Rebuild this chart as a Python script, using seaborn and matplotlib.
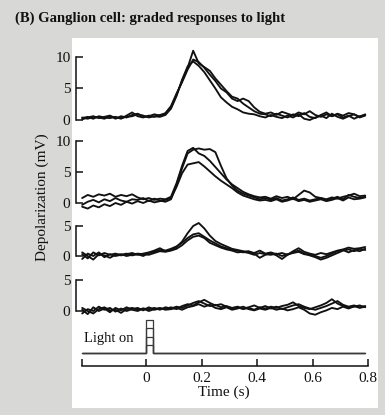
import numpy as np
import pandas as pd
import matplotlib
matplotlib.use("Agg")
import matplotlib.pyplot as plt
import seaborn as sns
from matplotlib.patches import Rectangle

# ---------------- data ----------------
times = [-0.23, -0.21, -0.19, -0.17, -0.15, -0.13, -0.11, -0.09, -0.07, -0.05,
         -0.03, -0.01, 0.01, 0.03, 0.05, 0.07, 0.09, 0.11, 0.13, 0.15,
         0.17, 0.19, 0.21, 0.23, 0.25, 0.27, 0.29, 0.31, 0.33, 0.35,
         0.37, 0.39, 0.41, 0.43, 0.45, 0.47, 0.49, 0.51, 0.53, 0.55,
         0.57, 0.59, 0.61, 0.63, 0.65, 0.67, 0.69, 0.71, 0.73, 0.75,
         0.77, 0.79]

p1_a = [0.3, 0.5, 0.2, 0.6, 0.4, 0.3, 0.5, 0.2, 0.7, 1.2, 0.6, 0.4, 0.7, 0.5, 0.8, 1.0,
        2.0, 4.0, 6.2, 8.3,
        11.0, 9.0, 8.4, 7.8, 6.6, 5.6, 4.6, 3.7, 3.4, 2.6, 2.0, 1.4, 1.0, 0.9,
        0.6, 1.0, 0.7, 0.4, 0.9, 0.6, 1.1, 0.5, 0.3, 0.8, 1.2, 0.6, 0.9, 0.4, 0.7, 0.2, 0.6, 0.8]
p1_b = [0.1, 0.4, 0.6, 0.3, 0.5, 0.7, 0.2, 0.6, 0.4, 0.8, 1.0, 0.5, 0.6, 0.9, 0.7, 1.1,
        2.2, 4.2, 6.0, 8.0,
        9.6, 9.2, 8.3, 7.2, 6.2, 5.0, 4.4, 3.4, 3.0, 3.4, 3.0, 2.0, 1.3, 1.0,
        1.2, 0.8, 1.3, 1.0, 0.7, 1.2, 0.9, 1.4, 0.8, 0.5, 0.9, 0.6, 1.0, 0.7, 1.1, 0.9, 0.5, 0.9]
p1_c = [0.4, 0.2, 0.5, 0.4, 0.2, 0.6, 0.4, 0.3, 0.5, 0.6, 0.9, 0.7, 0.4, 0.6, 0.5, 0.8,
        1.8, 3.8, 6.4, 8.5,
        9.3, 8.6, 7.6, 6.3, 5.0, 3.6, 2.8, 2.1, 1.7, 1.2, 1.0, 0.9, 0.6, 0.4,
        0.8, 0.5, 0.3, 0.7, 0.4, 0.9, 0.2, 0.0, 0.4, 0.7, 0.3, 1.0, 0.5, 0.2, 0.6, 0.9, 0.4, 0.7]

p2_a = [0.8, 1.3, 1.0, 1.4, 1.2, 1.5, 1.0, 1.3, 1.1, 1.4, 0.9, 0.6, 0.8, 0.5, 0.7, 0.6,
        1.0, 3.2, 6.0, 8.4,
        8.9, 8.0, 7.6, 6.8, 5.8, 4.8, 3.8, 3.0, 2.4, 1.8, 1.4, 1.1, 0.9, 1.0,
        0.7, 1.1, 0.8, 1.0, 0.6, 1.3, 2.0, 1.7, 1.0, 0.8, 0.6, 0.9, 0.7, 1.0, 1.2, 1.5, 1.1, 1.2]
p2_b = [-0.3, 0.2, 0.5, 0.1, 0.6, 0.3, 0.8, 0.4, 0.2, 0.6, 0.5, 0.8, 0.3, 0.7, 0.4, 0.2,
        0.6, 2.8, 5.6, 8.0,
        8.6, 8.8, 8.6, 8.7, 8.2, 6.0, 4.0, 2.8, 2.0, 1.5, 1.2, 0.9, 0.6, 0.8,
        0.5, 0.8, 0.4, 0.6, 0.9, 0.5, 0.7, 0.4, 0.6, 0.8, 0.5, 0.7, 1.0, 0.6, 1.3, 1.0, 0.8, 1.0]
p2_c = [-0.6, -0.9, -0.4, -0.7, -0.2, -0.5, 0.0, -0.3, 0.2, -0.1, 0.3, 0.0, 0.4, 0.1, 0.3, 0.5,
        0.8, 2.6, 4.8, 6.2,
        6.4, 6.6, 5.9, 5.1, 4.3, 3.6, 3.0, 2.4, 1.7, 1.2, 0.9, 0.6, 0.4, 0.5,
        0.3, 0.6, 0.2, 0.4, 0.7, 0.3, 0.5, 0.2, 0.4, 0.6, 0.3, 0.5, 0.8, 0.4, 0.9, 0.6, 0.7, 0.9]

p3_a = [0.3, -0.4, 0.6, 0.1, 0.5, 0.2, 0.4, 0.1, 0.3, 0.5, 0.2, 0.4, 0.6, 0.9, 1.3, 0.8,
        1.0, 1.5, 2.4, 3.8,
        5.0, 5.5, 4.6, 3.4, 2.5, 2.0, 1.6, 1.2, 1.0, 0.8, 0.7, 0.5, 0.9, 0.4,
        0.6, 0.3, 0.5, 0.2, 0.8, 1.3, 0.7, 0.4, 0.2, 0.5, 0.3, 0.6, 0.9, 1.1, 1.4, 1.2, 1.3, 1.5]
p3_b = [-0.5, 0.4, 0.0, 0.6, -0.2, 0.3, 0.0, 0.2, 0.4, 0.1, 0.3, 0.0, 0.5, 0.7, 1.0, 0.9,
        1.2, 1.6, 2.2, 3.0,
        3.6, 3.8, 3.2, 2.6, 2.1, 1.6, 1.3, 1.0, 0.9, 0.6, 0.8, 0.4, -0.3, 0.2,
        0.5, 0.1, -0.5, 0.2, 0.6, 0.9, 0.4, 0.1, -0.2, -0.6, -0.3, 0.1, 0.5, 0.9, 1.1, 0.8, 1.2, 1.0]
p3_c = [0.6, 0.0, -0.6, 0.3, 0.1, -0.3, 0.2, 0.3, 0.0, 0.2, 0.4, 0.3, 0.2, 0.5, 0.8, 0.7,
        0.9, 1.2, 1.8, 2.6,
        3.2, 3.4, 3.0, 2.2, 1.8, 1.4, 1.1, 0.9, 0.6, 0.7, 0.5, 0.2, 0.5, 0.3,
        0.2, 0.4, 0.0, 0.3, 0.5, 0.7, 0.3, 0.2, 0.0, -0.3, 0.0, 0.4, 0.8, 1.0, 0.6, 1.0, 0.8, 1.2]

p4_a = [0.2, -0.5, 0.6, 0.0, 0.4, -0.2, 0.5, 0.1, 0.6, 0.2, 0.0, 0.4, 0.3, 0.5, 0.2, 0.6,
        0.4, 0.7, 0.5, 0.9,
        1.3, 1.6, 1.2, 0.8, 1.0, 0.6, 0.8, 0.5, 0.7, 0.4, 0.6, 0.9, 0.5, 0.8,
        0.4, 0.7, 0.3, 0.6, 0.9, 1.1, 0.7, 0.4, 0.2, 0.5, 0.8, 1.2, 1.6, 1.0, 0.7, 0.9, 0.6, 0.8]
p4_b = [-0.4, 0.3, 0.0, 0.7, 0.2, 0.5, -0.1, 0.4, 0.0, 0.3, 0.5, 0.1, 0.6, 0.2, 0.4, 0.3,
        0.6, 0.3, 0.8, 1.1,
        0.9, 1.4, 1.8, 1.3, 0.9, 1.1, 0.7, 0.4, 0.6, 0.3, 0.5, 0.2, 0.6, 0.4,
        0.7, 0.5, 0.8, 1.0, 1.4, 0.8, 0.5, 0.3, 0.6, 0.9, 1.3, 1.9, 1.2, 0.8, 0.5, 0.7, 0.9, 0.6]
p4_c = [0.5, 0.0, -0.4, 0.3, 0.6, 0.1, 0.2, -0.3, 0.3, 0.5, 0.2, 0.4, 0.0, 0.3, 0.5, 0.2,
        0.3, 0.5, 0.2, 0.6,
        0.8, 1.1, 0.7, 1.0, 0.5, 0.3, 0.6, 0.2, 0.4, 0.7, 0.3, 0.1, 0.4, 0.2,
        0.5, 0.2, 0.4, 0.1, 0.3, 0.6, 0.2, -0.4, -0.6, -0.2, 0.1, 0.5, 0.3, 0.7, 0.4, 0.8, 0.5, 0.7]

panel_traces = [[p1_a, p1_b, p1_c], [p2_a, p2_b, p2_c],
                [p3_a, p3_b, p3_c], [p4_a, p4_b, p4_c]]
panel_yticks = [[0, 5, 10], [0, 5, 10], [0, 5], [0, 5]]

stim_times = [-0.23, 0.0, 0.0, 0.025, 0.025, 0.79]
stim_levels = [4, 3, 2, 1]

time_ticks = [0, 0.2, 0.4, 0.6, 0.8]
time_ticklabels = ["0", "0.2", "0.4", "0.6", "0.8"]

title = "(B) Ganglion cell: graded responses to light"
ylabel = "Depolarization (mV)"
xlabel = "Time (s)"

# ---------------- styling ----------------
sns.set_style("white")
plt.rcParams["font.family"] = ["Liberation Serif", "DejaVu Serif"]

W, H = 385, 415
fig = plt.figure(figsize=(W / 100, H / 100), dpi=100)
fig.patch.set_facecolor("#d8d8d6")
bg = Rectangle((72 / W, 1 - 408 / H), (378 - 72) / W, (408 - 38) / H,
               transform=fig.transFigure, facecolor="white",
               edgecolor="none", zorder=-10)
fig.add_artist(bg)

X_LEFT, X_RIGHT = 76, 372
x0_pix, px_per_s = 146, 277.5
xlim = ((X_LEFT - x0_pix) / px_per_s, (X_RIGHT - x0_pix) / px_per_s)


def make_ax(y0pix, ppu, ylim):
    top = y0pix - ppu * ylim[1]
    bot = y0pix - ppu * ylim[0]
    ax = fig.add_axes([X_LEFT / W, 1 - bot / H, (X_RIGHT - X_LEFT) / W, (bot - top) / H])
    ax.set_facecolor("none")
    ax.patch.set_alpha(0)
    ax.set_xlim(*xlim)
    ax.set_ylim(*ylim)
    return ax


panel_geom = [(120, 6.3, (-1.0, 11.5)), (203, 6.2, (-1.3, 10.5)),
              (256, 6.0, (-1.5, 6.2)), (311, 6.2, (-1.2, 5.5))]

ink = "#111111"
for traces, yt, (y0, ppu, yl) in zip(panel_traces, panel_yticks, panel_geom):
    ax = make_ax(y0, ppu, yl)
    df = pd.DataFrame({
        "t": np.tile(times, len(traces)),
        "v": np.concatenate(traces),
        "trial": np.repeat(np.arange(len(traces)), len(times)),
    })
    sns.lineplot(data=df, x="t", y="v", units="trial", estimator=None,
                 color=ink, lw=1.35, ax=ax, legend=False)
    ax.set_xlim(*xlim)
    ax.set_ylim(*yl)
    ax.set_xlabel("")
    ax.set_ylabel("")
    for s in ["top", "right", "bottom"]:
        ax.spines[s].set_visible(False)
    ax.spines["left"].set_bounds(yt[0], yt[-1])
    ax.spines["left"].set_linewidth(1.1)
    ax.spines["left"].set_color(ink)
    ax.set_xticks([])
    ax.set_yticks(yt)
    ax.set_yticklabels([str(v) for v in yt])
    ax.tick_params(axis="y", direction="in", length=5, width=1.1, pad=4,
                   labelsize=11, colors=ink, left=True)

# stimulus trace
ax_s = make_ax(353, 8.2, (-0.6, 4.6))
sdf = pd.DataFrame({
    "t": np.tile(stim_times, len(stim_levels)),
    "v": np.concatenate([[0, 0, h, h, 0, 0] for h in stim_levels]),
    "trial": np.repeat(np.arange(len(stim_levels)), len(stim_times)),
})
sns.lineplot(data=sdf, x="t", y="v", units="trial", estimator=None, sort=False,
             color="#3a3a3a", lw=0.9, ax=ax_s, legend=False)
ax_s.set_xlim(*xlim)
ax_s.set_ylim(-0.6, 4.6)
ax_s.set_axis_off()
fig.text(84 / W, 1 - 338 / H, "Light on", fontsize=10.5, color=ink,
         ha="left", va="center")

# time axis
ax_t = make_ax(366, 1.0, (0, 4))
for s in ["top", "right", "left"]:
    ax_t.spines[s].set_visible(False)
ax_t.spines["bottom"].set_bounds(-0.23, 0.8)
ax_t.spines["bottom"].set_linewidth(1.1)
ax_t.spines["bottom"].set_color(ink)
ax_t.set_yticks([])
ax_t.set_xticks([-0.23] + time_ticks)
ax_t.set_xticklabels([""] + time_ticklabels)
ax_t.tick_params(axis="x", direction="in", length=5, width=1.1, pad=4,
                 labelsize=11, colors=ink, bottom=True)
ax_t.set_xlabel(xlabel, fontsize=11, color=ink, labelpad=1)

fig.text(42 / W, 1 - 197 / H, ylabel, rotation=90, fontsize=11, color=ink,
         ha="center", va="center")
fig.text(15 / W, 1 - 18 / H, title, fontsize=10.5, fontweight="bold", color=ink,
         ha="left", va="center")

fig.savefig("out.png", dpi=100, facecolor=fig.get_facecolor())
